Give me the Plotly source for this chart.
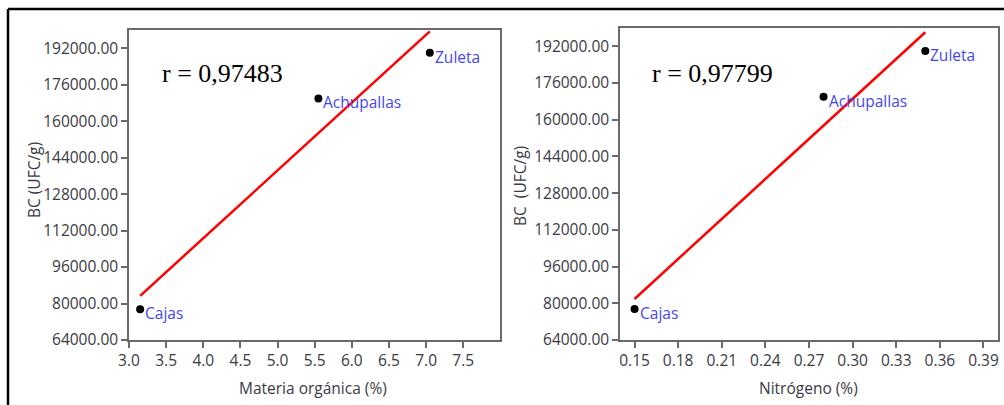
import numpy as np
import plotly.graph_objects as go

# Sites and measured values
sitios = ["Cajas", "Achupallas", "Zuleta"]
materia_organica = [3.15, 5.55, 7.05]      # %
nitrogeno = [0.15, 0.28, 0.35]             # %
bc_ufc = [77500, 170000, 190000]           # UFC/g
r_textos = ["r = 0,97483", "r = 0,97799"]
y_titulos = ["BC (UFC/g)", "BC\u00a0 (UFC/g)"]

W, H = 1004, 405


def px(x):
    return x / W


def py(y):
    return 1 - y / H


fig = go.Figure()

SANS = "Open Sans, Noto Sans, sans-serif"
TICK_FONT = dict(family=SANS, size=15.5, color="#3a3a44")
FRAME = "#6a6a6a"
LABEL_BLUE = "#4646f0"

panels = [
    dict(x=materia_organica, xa="x", ya="y", dom=[px(129), px(500)], ydom=[py(340), py(30)],
         rng=[3.0, 7.995], tick0=3.0, dtick=0.5, fmt=".1f", title="Materia orgánica (%)",
         title_x=313, ytitle_x=34, ytitle_y=180, rtext_x=160),
    dict(x=nitrogeno, xa="x2", ya="y2", dom=[px(620), px(998)], ydom=[py(340), py(28)],
         rng=[0.14, 0.40], tick0=0.15, dtick=0.03, fmt=".2f", title="Nitrógeno (%)",
         title_x=808, ytitle_x=520, ytitle_y=186, rtext_x=650),
]

for i, p in enumerate(panels):
    xs = np.array(p["x"], dtype=float)
    ys = np.array(bc_ufc, dtype=float)
    slope, intercept = np.polyfit(xs, ys, 1)
    xl = np.array([xs.min(), xs.max()])
    fig.add_trace(go.Scatter(x=xl, y=slope * xl + intercept, mode="lines",
                             line=dict(color="#ff0000", width=2.5),
                             xaxis=p["xa"], yaxis=p["ya"], showlegend=False))
    fig.add_trace(go.Scatter(x=xs, y=ys, mode="markers",
                             marker=dict(color="black", size=8),
                             xaxis=p["xa"], yaxis=p["ya"], showlegend=False))
    for s, xv, yv in zip(sitios, xs, ys):
        fig.add_annotation(x=xv, y=yv, xref=p["xa"], yref=p["ya"], text=s,
                           showarrow=False, xanchor="left", yanchor="middle",
                           xshift=3, yshift=-4,
                           font=dict(family=SANS, size=15.5, color=LABEL_BLUE))
    # correlation coefficient
    fig.add_annotation(x=px(p["rtext_x"]), y=py(73), xref="paper", yref="paper",
                       text=r_textos[i], showarrow=False, xanchor="left", yanchor="middle",
                       font=dict(family="Liberation Serif, Times New Roman, serif",
                                 size=26, color="black"))
    # axis titles
    fig.add_annotation(x=px(p["title_x"]), y=py(388), xref="paper", yref="paper",
                       text=p["title"], showarrow=False, xanchor="center", yanchor="middle",
                       font=dict(family=SANS, size=15.5, color="#3a3a44"))
    fig.add_annotation(x=px(p["ytitle_x"]), y=py(p["ytitle_y"]), xref="paper", yref="paper",
                       text=y_titulos[i], showarrow=False, textangle=-90,
                       xanchor="center", yanchor="middle",
                       font=dict(family=SANS, size=15.5, color="#3a3a44"))

    axis_common = dict(showline=True, linecolor=FRAME, linewidth=1.5, mirror=True,
                       ticks="outside", ticklen=6, tickcolor=FRAME, tickwidth=1.5,
                       showgrid=False, zeroline=False, tickfont=TICK_FONT,
                       automargin=False)
    xkey = "xaxis" if i == 0 else "xaxis2"
    ykey = "yaxis" if i == 0 else "yaxis2"
    fig.update_layout(**{
        xkey: dict(domain=p["dom"], range=p["rng"], tick0=p["tick0"], dtick=p["dtick"],
                   tickformat=p["fmt"], anchor=p["ya"], **axis_common),
        ykey: dict(domain=p["ydom"], range=[64000, 200000], tick0=64000, dtick=16000,
                   tickformat=".2f", anchor=p["xa"], **axis_common),
    })

# outer frame (top and left edges)
fig.add_shape(type="line", xref="paper", yref="paper", x0=px(8), x1=1.0, y0=py(9), y1=py(9),
              line=dict(color="black", width=2.5))
fig.add_shape(type="line", xref="paper", yref="paper", x0=px(8), x1=px(8), y0=py(9), y1=0,
              line=dict(color="black", width=2.5))

fig.update_layout(width=W, height=H, margin=dict(l=0, r=0, t=0, b=0),
                  paper_bgcolor="white", plot_bgcolor="white", showlegend=False)

fig.write_html("out.html")
